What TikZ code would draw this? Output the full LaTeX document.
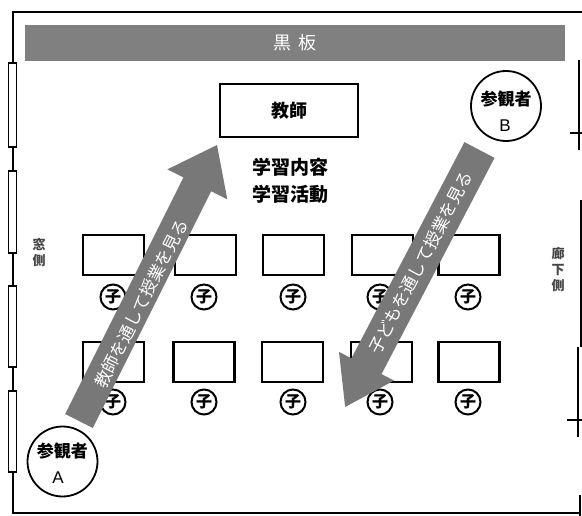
\documentclass[tikz,border=0pt]{standalone}
\usepackage{fontspec}
\setmainfont{Liberation Sans}
\newfontfamily\jp{Noto Sans CJK JP}
\definecolor{bbgray}{RGB}{128,128,128}
\definecolor{arrgray}{RGB}{120,120,120}
\definecolor{sidetext}{RGB}{70,70,70}
\begin{document}
\begin{tikzpicture}[x=1pt,y=-1pt,
  wall/.style={line width=2pt, black},
  win/.style={draw=black, line width=1.6pt, fill=white},
  desk/.style={draw, line width=2.2pt, minimum width=61pt, minimum height=40pt, inner sep=0pt},
  kid/.style={circle, draw, line width=2pt, minimum size=25pt, inner sep=0pt, font=\jp\bfseries\fontsize{16}{16}\selectfont},
  obs/.style={circle, draw, line width=1.8pt, minimum size=70pt, fill=white},
  obstext/.style={font=\jp\bfseries\fontsize{17}{17}\selectfont, inner sep=0pt},
  letter/.style={font=\fontsize{17}{17}\selectfont, inner sep=0pt},
  arrowshape/.style={fill=arrgray},
  arrowtext/.style={text=white, font=\jp\fontsize{17}{17}\selectfont, inner sep=0pt},
  sidelabel/.style={text=sidetext, align=center, font=\jp\bfseries\fontsize{13}{16}\selectfont}
]
\useasboundingbox (0,0) rectangle (582,516);
\fill[white] (0,0) rectangle (582,516);

% walls
\draw[wall] (582,12) -- (12.5,12) -- (12.5,63);
\draw[wall] (12.5,147) -- (12.5,171);
\draw[wall] (12.5,253) -- (12.5,286);
\draw[wall] (12.5,367) -- (12.5,391);
\draw[wall] (12.5,472) -- (12.5,513) -- (580,513);
\draw[win] (8.5,63) rectangle (16.5,147);
\draw[win] (8.5,171) rectangle (16.5,253);
\draw[win] (8.5,286) rectangle (16.5,367);
\draw[win] (8.5,391) rectangle (16.5,472);
\draw[wall] (579,60) -- (579,150);
\draw[wall] (570,133) -- (582,133);
\draw[wall] (581,200) -- (581,347);
\draw[wall] (578,347) -- (578,437);
\draw[wall] (567,420) -- (582,420);
\draw[wall] (580,495) -- (580,516);

% blackboard
\node[fill=bbgray, minimum width=540pt, minimum height=36pt, inner sep=0pt,
      text=white, font=\jp\fontsize{18}{18}\selectfont] (board) at (295,43) {黒\hspace{8pt}板};

% teacher
\node[draw, line width=2.2pt, minimum width=138pt, minimum height=53pt,
      font=\jp\bfseries\fontsize{18}{18}\selectfont] (teacher) at (289,110.5) {教師};
\node[font=\jp\bfseries\fontsize{19}{19}\selectfont] (c1) at (290,167) {学習内容};
\node[font=\jp\bfseries\fontsize{19}{19}\selectfont] (c2) at (290,194) {学習活動};

% side labels
\node[sidelabel] (win) at (39,253) {窓\\側};
\node[sidelabel] (hall) at (558,270) {廊\\下\\側};

% desks
\node[desk] (d11) at (113.5,255) {};
\node[desk] (d12) at (205.5,255) {};
\node[desk] (d13) at (293.5,255) {};
\node[desk] (d14) at (382.5,255) {};
\node[desk] (d15) at (469,255) {};
\node[desk] (d21) at (113.5,362) {};
\node[desk] (d22) at (204,362) {};
\node[desk] (d23) at (292.5,362) {};
\node[desk] (d24) at (381.5,362) {};
\node[desk] (d25) at (469,362) {};

% children
\node[kid] (k11) at (113,297) {子};
\node[kid] (k12) at (204,297) {子};
\node[kid] (k13) at (293,297) {子};
\node[kid] (k14) at (380,297) {子};
\node[kid] (k15) at (468,297) {子};
\node[kid] (k21) at (113,402) {子};
\node[kid] (k22) at (204,402) {子};
\node[kid] (k23) at (293,402) {子};
\node[kid] (k24) at (380,402) {子};
\node[kid] (k25) at (468,402) {子};

% observers
\node[obs] (obsA) at (62.5,461.5) {};
\node[obstext] (obsAt) at (62.5,451) {参観者};
\node[letter] (obsAl) at (58,478) {A};
\node[obs] (obsB) at (506,106) {};
\node[obstext] (obsBt) at (506,99) {参観者};
\node[letter] (obsBl) at (505,126) {B};

% arrow 1: observer A through teacher
\coordinate (a1tail) at (79,421);
\begin{scope}[shift={(a1tail)}, rotate=63.43]
  \fill[arrowshape] (0,-15.5) -- (264.6,-15.5) -- (264.6,-33.5) -- (308.6,0)
     -- (264.6,33.5) -- (264.6,15.5) -- (0,15.5) -- cycle;
  \node[arrowtext, transform shape] (a1text) at (133,3) {教師を通して授業を見る};
\end{scope}

% arrow 2: observer B through children
\coordinate (a2tail) at (479.5,150);
\begin{scope}[shift={(a2tail)}, rotate=242.4]
  \fill[arrowshape] (0,-17) -- (244,-17) -- (244,-31) -- (290,0)
     -- (244,31) -- (244,17) -- (0,17) -- cycle;
  \node[arrowtext, transform shape, rotate=180] (a2text) at (127,0) {子どもを通して授業を見る};
\end{scope}
\end{tikzpicture}
\end{document}
